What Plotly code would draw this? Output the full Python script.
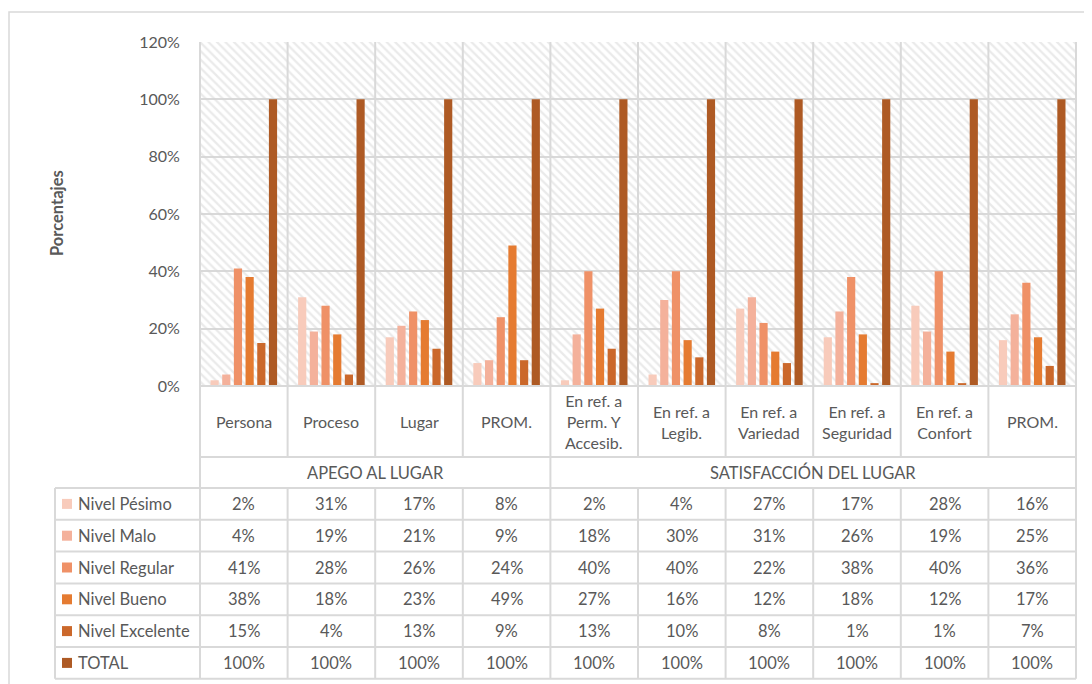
import plotly.graph_objects as go

# ---------------- data ----------------
categories = ["Persona", "Proceso", "Lugar", "PROM.",
              "En ref. a<br>Perm. Y<br>Accesib.", "En ref. a<br>Legib.",
              "En ref. a<br>Variedad", "En ref. a<br>Seguridad",
              "En ref. a<br>Confort", "PROM."]
groups = ["APEGO AL LUGAR", "SATISFACCIÓN DEL LUGAR"]
group_sizes = [4, 6]
series_names = ["Nivel Pésimo", "Nivel Malo", "Nivel Regular",
                "Nivel Bueno", "Nivel Excelente", "TOTAL"]
pesimo = [2, 31, 17, 8, 2, 4, 27, 17, 28, 16]
malo = [4, 19, 21, 9, 18, 30, 31, 26, 19, 25]
regular = [41, 28, 26, 24, 40, 40, 22, 38, 40, 36]
bueno = [38, 18, 23, 49, 27, 16, 12, 18, 12, 17]
excelente = [15, 4, 13, 9, 13, 10, 8, 1, 1, 7]
total = [100, 100, 100, 100, 100, 100, 100, 100, 100, 100]
y_ticks = [0, 20, 40, 60, 80, 100, 120]
y_title = "Porcentajes"

series_values = [pesimo, malo, regular, bueno, excelente, total]
colors = ["#f8cbbb", "#f4b19b", "#ef9167", "#e57b31", "#cb682b", "#ae5a24"]

# ---------------- layout geometry ----------------
OFF = 8                      # default page body margin
W, H = 1092 - OFF, 684 - OFF
L, T = 200 - OFF, 42 - OFF
PW, PH = 876, 344
R, B = W - L - PW, H - T - PH
FONT = "Lato"
FS = 16
FS_TABLE = 16.5
TXT = "#595959"
GRID = "#d9d9d9"

def px_x(px):
    return (px - OFF - L) / PW

def px_y(py):
    return (T + PH - (py - OFF)) / PH

n = len(categories)
plot_bottom = 386
cat_bottom = 457
grp_bottom = 488
row_h = 31.8
table_bottom = grp_bottom + row_h * len(series_names)

fig = go.Figure()

# hatched plot-area background (base x axis)
fig.add_trace(go.Bar(
    x=[0.5], y=[y_ticks[-1]], width=[1], xaxis="x", yaxis="y",
    marker=dict(color="rgba(0,0,0,0)", line=dict(width=0),
                pattern=dict(shape="\\", size=6, solidity=0.38,
                             fgcolor="#d6d6d6", bgcolor="rgba(0,0,0,0)")),
    showlegend=False, hoverinfo="skip"))

# data bars (overlaying x axis)
for name, vals, col in zip(series_names, series_values, colors):
    fig.add_trace(go.Bar(
        x=list(range(n)), y=vals, name=name, xaxis="x2", yaxis="y",
        marker=dict(color=col, line=dict(width=0)), showlegend=False))

shapes = []
def line(x0, y0, x1, y1, w=2):
    shapes.append(dict(type="line", xref="paper", yref="paper",
                       x0=x0, y0=y0, x1=x1, y1=y1,
                       line=dict(color=GRID, width=w), layer="above"))

# outer chart border
shapes.append(dict(type="rect", xref="paper", yref="paper",
                   x0=px_x(9), x1=px_x(1092 + 20), y0=px_y(684 + 20), y1=px_y(12),
                   line=dict(color=GRID, width=1.5), layer="below"))

# vertical boundaries
bounds = [k / n for k in range(n + 1)]
group_edges = [0]
for s in group_sizes:
    group_edges.append(group_edges[-1] + s)
for k, bx in enumerate(bounds):
    if k in group_edges:
        line(bx, 1, bx, px_y(table_bottom))
    else:
        line(bx, 1, bx, px_y(cat_bottom))
        line(bx, px_y(grp_bottom), bx, px_y(table_bottom))
# legend column left edge
line(px_x(55), px_y(grp_bottom), px_x(55), px_y(table_bottom))
# horizontal table lines
line(0, 0, 1, 0)
line(0, px_y(cat_bottom), 1, px_y(cat_bottom))
for r in range(len(series_names) + 1):
    yy = px_y(grp_bottom + r * row_h)
    line(px_x(55), yy, 1, yy)

annotations = []
def text(x, y, s, size=FS_TABLE, xanchor="center", bold=False, angle=0):
    annotations.append(dict(xref="paper", yref="paper", x=x, y=y, text=s,
                            showarrow=False, xanchor=xanchor, yanchor="middle",
                            textangle=angle,
                            font=dict(family=FONT, size=size, color=TXT,
                                      weight="bold" if bold else "normal")))

# category labels
for i, c in enumerate(categories):
    text((i + 0.5) / n, px_y((plot_bottom + cat_bottom) / 2), c, size=FS)
# group labels
for g, a, b in zip(groups, group_edges[:-1], group_edges[1:]):
    text((a + b) / 2 / n, px_y((cat_bottom + grp_bottom) / 2), g)
# data rows + legend keys
for r, (name, vals, col) in enumerate(zip(series_names, series_values, colors)):
    yc = grp_bottom + (r + 0.5) * row_h
    shapes.append(dict(type="rect", xref="paper", yref="paper",
                       x0=px_x(62), x1=px_x(72), y0=px_y(yc - 5), y1=px_y(yc + 5),
                       fillcolor=col, line=dict(width=0), layer="above"))
    text(px_x(76), px_y(yc), name, xanchor="left")
    for i, v in enumerate(vals):
        text((i + 0.5) / n, px_y(yc), f"{v}%")

# axis title
text(px_x(57), px_y(213), y_title, size=16.5, bold=True, angle=-90)

fig.update_layout(
    width=W, height=H,
    margin=dict(l=L, r=R, t=T, b=B),
    paper_bgcolor="white", plot_bgcolor="white",
    barmode="group", bargap=0.2, bargroupgap=0.3,
    font=dict(family=FONT, color=TXT, size=FS),
    xaxis=dict(range=[0, 1], visible=False, fixedrange=True),
    xaxis2=dict(range=[-0.5, n - 0.5], overlaying="x", visible=False),
    yaxis=dict(range=[0, y_ticks[-1]], tickvals=y_ticks,
               ticktext=[f"{t}%" for t in y_ticks],
               showgrid=True, gridcolor=GRID, gridwidth=1.5,
               zeroline=False, showline=False,
               ticks="outside", ticklen=16, tickcolor="rgba(0,0,0,0)",
               tickfont=dict(family=FONT, size=FS, color=TXT)),
    shapes=shapes, annotations=annotations,
)

fig.write_html("out.html")
